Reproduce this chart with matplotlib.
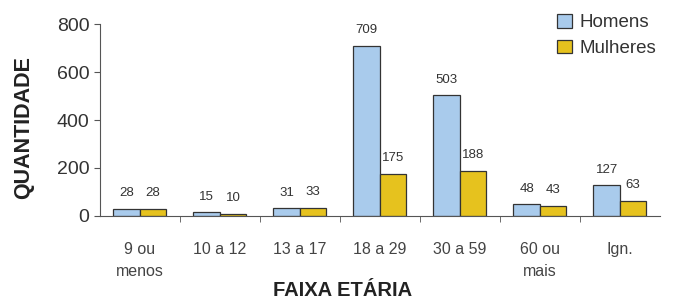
import numpy as np
import matplotlib.pyplot as plt
from matplotlib.ticker import FixedLocator

categories = ["9 ou\nmenos", "10 a 12", "13 a 17", "18 a 29", "30 a 59", "60 ou\nmais", "Ign."]
homens = [28, 15, 31, 709, 503, 48, 127]
mulheres = [28, 10, 33, 175, 188, 43, 63]

plt.rcParams["font.family"] = ["Liberation Sans", "DejaVu Sans"]

fig = plt.figure(figsize=(6.74, 3.02), dpi=100)
ax = fig.add_axes([0.148, 0.285, 0.831, 0.635])

x = np.arange(len(categories)) + 0.5
w = 0.33

b1 = ax.bar(x - w / 2, homens, w, color="#a9cbec", edgecolor="#333333",
            linewidth=0.9, label="Homens")
b2 = ax.bar(x + w / 2, mulheres, w, color="#e6c21e", edgecolor="#333333",
            linewidth=0.9, label="Mulheres")

for bars, vals in ((b1, homens), (b2, mulheres)):
    for rect, v in zip(bars, vals):
        ax.annotate(str(v), (rect.get_x() + rect.get_width() / 2, v),
                    xytext=(0, 7), textcoords="offset points",
                    ha="center", va="bottom", fontsize=9.5, color="#333333")

ax.set_xlim(0, len(categories))
ax.set_ylim(0, 800)
ax.set_yticks([0, 200, 400, 600, 800])
ax.set_xticks(x)
ax.set_xticklabels(categories, fontsize=11.5, color="#444444", linespacing=1.55)
ax.xaxis.set_minor_locator(FixedLocator(np.arange(1, len(categories))))
ax.tick_params(axis="x", which="major", length=0, pad=19)
ax.tick_params(axis="x", which="minor", length=4, color="#555555", direction="out")
ax.tick_params(axis="y", length=4, color="#555555", labelsize=14, labelcolor="#333333")

ax.set_xlabel("FAIXA ETÁRIA", fontsize=14.5, fontweight="bold", color="#222222")
ax.set_ylabel("QUANTIDADE", fontsize=15.5, fontweight="bold", color="#222222")
ax.xaxis.set_label_coords(0.434, -0.39)
ax.yaxis.set_label_coords(-0.136, 0.46)
ax.xaxis.label.set_va("center")
ax.yaxis.label.set_va("center")

ax.spines["top"].set_visible(False)
ax.spines["right"].set_visible(False)
ax.spines["left"].set_color("#555555")
ax.spines["bottom"].set_color("#555555")

fig.legend(loc="upper right", bbox_to_anchor=(0.998, 1.01), frameon=False, fontsize=13.5,
           handlelength=0.75, handleheight=0.75, handletextpad=0.4, labelspacing=0.45,
           labelcolor="#333333")

fig.savefig("out.png", dpi=100)
